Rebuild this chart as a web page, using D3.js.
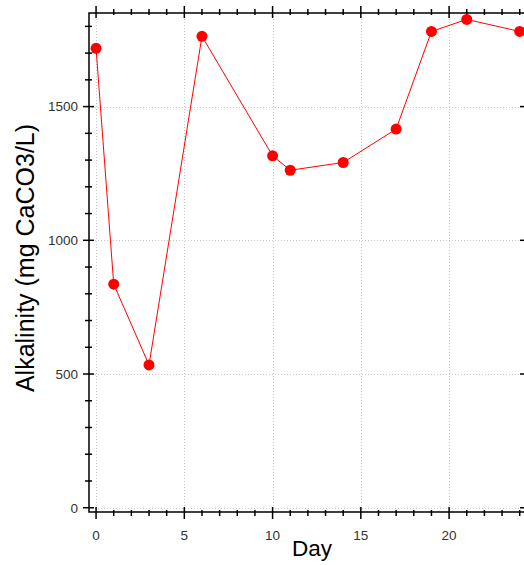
<!DOCTYPE html>
<html>
<head>
<meta charset="utf-8">
<script src="https://cdn.jsdelivr.net/npm/d3@7"></script>
<style>
  body { margin: 0; background: #fff; }
  svg { display: block; font-family: "Liberation Sans", Arial, sans-serif; }
</style>
</head>
<body>
<div id="chart"></div>
<script>
// values
let days = [0, 1, 3, 6, 10, 11, 14, 17, 19, 21, 24];
let alkalinity = [1718, 836, 534, 1763, 1316, 1262, 1291, 1416, 1781, 1826, 1781];
let xTicks = [0, 5, 10, 15, 20];
let yTicks = [0, 500, 1000, 1500];

let W = 524, H = 565;
let pLeft = 89, pRight = 525, pTop = 13, pBottom = 512;

let svg = d3.select("#chart")
	.append("svg")
	.attr("width", W)
	.attr("height", H);

let x = d3.scaleLinear().domain([-0.4, 24.3]).range([pLeft, pRight]);
let y = d3.scaleLinear().domain([-16, 1850]).range([pBottom, pTop]);

// dotted grid
let grid = svg.append("g")
	.attr("stroke", "#c8c8c8")
	.attr("stroke-width", 1)
	.attr("stroke-dasharray", "1,2");

grid.selectAll("line.vx")
	.data(xTicks)
	.enter().append("line")
	.attr("x1", (d) => { return Math.round(x(d)) + 0.5; })
	.attr("x2", (d) => { return Math.round(x(d)) + 0.5; })
	.attr("y1", pTop)
	.attr("y2", pBottom);

grid.selectAll("line.hy")
	.data(yTicks)
	.enter().append("line")
	.attr("y1", (d) => { return Math.round(y(d)) + 0.5; })
	.attr("y2", (d) => { return Math.round(y(d)) + 0.5; })
	.attr("x1", pLeft)
	.attr("x2", pRight);

// axes: ticks cross the frame, so draw them by hand from the scales
let minorX = d3.range(0, 25, 1).filter((d) => { return d % 5 !== 0; });
let minorY = d3.range(100, 1900, 100).filter((d) => { return d % 500 !== 0; });

let axes = svg.append("g").attr("stroke", "#000").attr("stroke-width", 1.5);

// bottom + top
[[pBottom, 1], [pTop, -1]].forEach(([yy, dir]) => {
	axes.selectAll(null)
		.data(xTicks)
		.enter().append("line")
		.attr("x1", (d) => { return x(d); })
		.attr("x2", (d) => { return x(d); })
		.attr("y1", yy - 5 * dir)
		.attr("y2", yy + 7 * dir);
	axes.selectAll(null)
		.data(minorX)
		.enter().append("line")
		.attr("x1", (d) => { return x(d); })
		.attr("x2", (d) => { return x(d); })
		.attr("y1", yy - 2 * dir)
		.attr("y2", yy + 4 * dir);
});

// left + right (right frame sits just past the window edge)
[[pLeft, -1, 3], [pRight, 1, 1]].forEach(([xx, dir, minorIn]) => {
	axes.selectAll(null)
		.data(yTicks)
		.enter().append("line")
		.attr("y1", (d) => { return y(d); })
		.attr("y2", (d) => { return y(d); })
		.attr("x1", xx - 5 * dir)
		.attr("x2", xx + 6 * dir);
	axes.selectAll(null)
		.data(minorY)
		.enter().append("line")
		.attr("y1", (d) => { return y(d); })
		.attr("y2", (d) => { return y(d); })
		.attr("x1", xx - minorIn * dir)
		.attr("x2", xx + 4 * dir);
});

axes.append("path")
	.attr("fill", "none")
	.attr("d", "M" + pLeft + "," + pTop + "H" + (pRight + 2) + "M" + pLeft + "," + (pTop - 0.75) + "V" + pBottom + "H" + (pRight + 2));

// tick labels
svg.append("g")
	.attr("font-size", 13.5)
	.attr("fill", "#333")
	.attr("text-anchor", "middle")
	.selectAll("text")
	.data(xTicks)
	.enter().append("text")
	.attr("x", (d) => { return x(d); })
	.attr("y", 539.5)
	.text((d) => { return d; });

svg.append("g")
	.attr("font-size", 13.5)
	.attr("fill", "#333")
	.attr("text-anchor", "end")
	.selectAll("text")
	.data(yTicks)
	.enter().append("text")
	.attr("x", 78)
	.attr("y", (d) => { return y(d) + 4.8; })
	.text((d) => { return d; });

// axis titles
svg.append("text")
	.attr("x", 312)
	.attr("y", 556)
	.attr("text-anchor", "middle")
	.attr("font-size", 22.5)
	.text("Day");

svg.append("text")
	.attr("transform", "translate(34,258) rotate(-90)")
	.attr("text-anchor", "middle")
	.attr("font-size", 25)
	.text("Alkalinity (mg CaCO3/L)");

// series
let pts = days.map((d, i) => { return [d, alkalinity[i]]; });

svg.append("path")
	.datum(pts)
	.attr("fill", "none")
	.attr("stroke", "#ff0000")
	.attr("stroke-width", 1)
	.attr("d", d3.line().x((d) => { return x(d[0]); }).y((d) => { return y(d[1]); }));

svg.selectAll("circle")
	.data(pts)
	.enter().append("circle")
	.attr("cx", (d) => { return x(d[0]); })
	.attr("cy", (d) => { return y(d[1]); })
	.attr("r", 5.5)
	.attr("fill", "#ff0000");
</script>
</body>
</html>
